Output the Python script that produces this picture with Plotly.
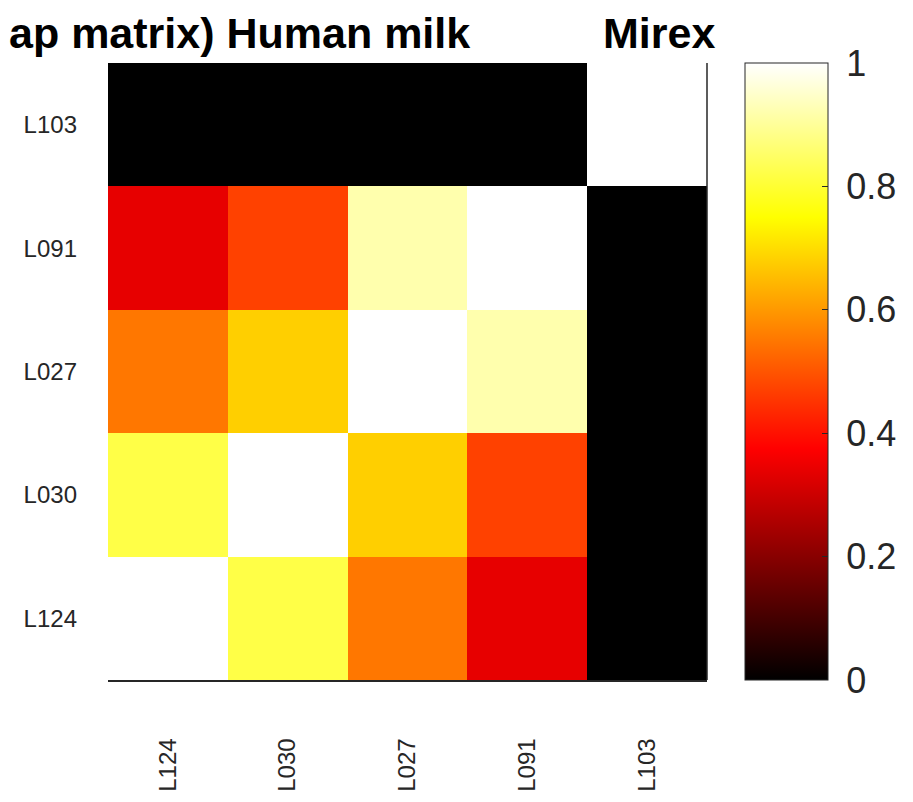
import plotly.graph_objects as go

# labels, bottom-to-top on y and left-to-right on x
labels = ["L124", "L030", "L027", "L091", "L103"]

# overlap values, one list per row (y label order above)
row_L124 = [1.00, 0.82, 0.55, 0.34, 0.00]
row_L030 = [0.82, 1.00, 0.68, 0.47, 0.00]
row_L027 = [0.55, 0.68, 1.00, 0.92, 0.00]
row_L091 = [0.34, 0.47, 0.92, 1.00, 0.00]
row_L103 = [0.00, 0.00, 0.00, 0.00, 1.00]

cbar_ticks = [0, 0.2, 0.4, 0.6, 0.8, 1]
cbar_text = ["0", "0.2", "0.4", "0.6", "0.8", "1"]

z = [row_L124, row_L030, row_L027, row_L091, row_L103]

# matlab "hot"
hot = [[0.0, "rgb(0,0,0)"], [0.375, "rgb(255,0,0)"],
       [0.75, "rgb(255,255,0)"], [1.0, "rgb(255,255,255)"]]

axcol = "#262626"
# page body has an 8px margin, so the figure is a bit smaller than the window
W, H = 905, 794
L, R, T, B = 100, 206, 55, 122
pw = W - L - R
ph = H - T - B

fig = go.Figure(go.Heatmap(
    z=z, x=labels, y=labels,
    zmin=0, zmax=1,
    colorscale=hot,
    colorbar=dict(
        x=(737 - L) / pw, xanchor="left", xref="paper",
        y=0.5, yanchor="middle", len=1, lenmode="fraction",
        thickness=83, xpad=0, ypad=0,
        outlinewidth=1, outlinecolor=axcol,
        tickvals=cbar_ticks, ticktext=["\u00a0" + t for t in cbar_text],
        ticks="inside", ticklen=6, tickcolor=axcol,
        tickfont=dict(family="Liberation Sans, Arial", size=36, color=axcol),
    ),
    hoverongaps=False,
))

fig.update_xaxes(
    type="category", showgrid=False, zeroline=False,
    showline=True, linecolor=axcol, linewidth=1.5,
    ticks="", tickangle=-90, ticklabelstandoff=47,
    tickfont=dict(family="Liberation Sans, Arial", size=24, color=axcol),
)
fig.update_yaxes(
    type="category", showgrid=False, zeroline=False,
    showline=False, ticks="", ticklabelstandoff=30,
    tickfont=dict(family="Liberation Sans, Arial", size=24, color=axcol),
)

# right-hand box edge only
fig.add_shape(type="line", xref="paper", yref="paper", x0=1, x1=1, y0=0, y1=1,
              line=dict(color=axcol, width=1.5))

title_font = dict(family="Liberation Sans, Arial", size=43, color="black")
fig.add_annotation(text="<b>ap matrix) Human milk</b>", xref="paper", yref="paper",
                   x=-L / pw, xanchor="left", y=1 + T / ph, yanchor="top",
                   showarrow=False, font=title_font, borderpad=0)
fig.add_annotation(text="<b>Mirex</b>", xref="paper", yref="paper",
                   x=(594 - L) / pw, xanchor="left", y=1 + T / ph, yanchor="top",
                   showarrow=False, font=title_font, borderpad=0)

fig.update_layout(
    width=W, height=H,
    margin=dict(l=L, r=R, t=T, b=B, autoexpand=False),
    paper_bgcolor="white", plot_bgcolor="white",
    showlegend=False,
)

fig.write_html("out.html")
